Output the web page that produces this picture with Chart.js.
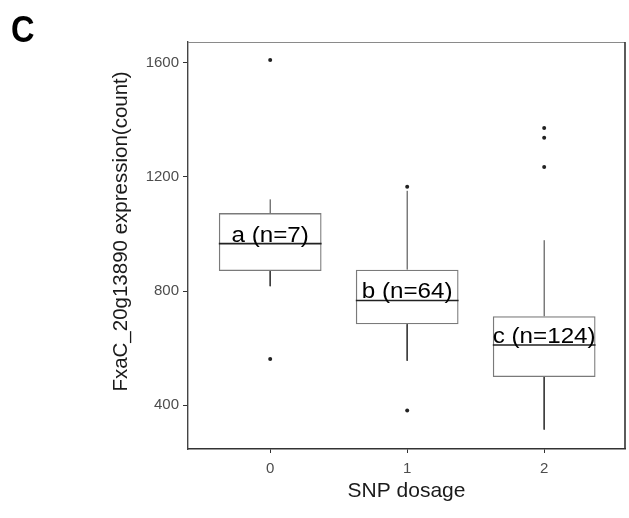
<!DOCTYPE html>
<html>
<head>
<meta charset="utf-8">
<script src="https://cdn.jsdelivr.net/npm/chart.js@4/dist/chart.umd.min.js"></script>
<style>
  html, body { margin: 0; padding: 0; background: #fff; }
  #wrap { width: 629px; height: 518px; position: relative; }
</style>
</head>
<body>
<div id="wrap"><canvas id="c" width="629" height="518"></canvas></div>
<script>
// ---- data ----
const categories   = ['0', '1', '2'];
const whiskerLow   = [817, 556, 315];
const q1           = [870, 684, 499];
const medians      = [966, 767, 611];
const q3           = [1073, 875, 712];
const whiskerHigh  = [1121, 1151, 978];
const outliers     = [[1609, 562], [1165, 382], [1371, 1337, 1234]];
const groupLabels  = ['a (n=7)', 'b (n=64)', 'c (n=124)'];
const yTicks       = [400, 800, 1200, 1600];
const xTitle       = 'SNP dosage';
const yTitle       = 'FxaC_20g13890 expression(count)';
const panelTag     = 'C';

const BOX_HALF = 0.375;

const boxData = categories.map((c, i) => ({ x: i, y: [q1[i], q3[i]] }));
const whiskerData = [];
categories.forEach((c, i) => {
  whiskerData.push({ x: i, y: q3[i] }, { x: i, y: whiskerHigh[i] }, { x: i, y: null });
  whiskerData.push({ x: i, y: q1[i] }, { x: i, y: whiskerLow[i] }, { x: i, y: null });
});
const medianData = [];
categories.forEach((c, i) => {
  medianData.push({ x: i - BOX_HALF, y: medians[i] }, { x: i + BOX_HALF, y: medians[i] }, { x: i, y: null });
});
const outlierData = [];
outliers.forEach((arr, i) => arr.forEach(v => outlierData.push({ x: i, y: v })));

const FONT = '"Liberation Sans", Arial, sans-serif';

const decor = {
  id: 'decor',
  afterDatasetsDraw(chart) {
    const { ctx, chartArea: a, scales: { x, y } } = chart;
    ctx.save();
    // top and right panel borders
    ctx.strokeStyle = '#8a8a8a';
    ctx.lineWidth = 1.2;
    ctx.beginPath();
    ctx.moveTo(a.left, a.top + 0.5);
    ctx.lineTo(a.right, a.top + 0.5);
    ctx.stroke();
    ctx.strokeStyle = '#333';
    ctx.lineWidth = 1.6;
    ctx.beginPath();
    ctx.moveTo(a.right, a.top);
    ctx.lineTo(a.right, a.bottom);
    ctx.stroke();
    // group labels
    ctx.fillStyle = '#000';
    ctx.font = '22px ' + FONT;
    ctx.textAlign = 'center';
    ctx.textBaseline = 'alphabetic';
    groupLabels.forEach((t, i) => {
      const px = x.getPixelForValue(i);
      const py = y.getPixelForValue(medians[i]) - 2;
      ctx.save();
      ctx.translate(px, py);
      ctx.scale(1.1, 1);
      ctx.fillText(t, 0, 0);
      ctx.restore();
    });
    // y axis title (sits slightly above the panel centre in the reference)
    ctx.fillStyle = '#1a1a1a';
    ctx.font = '20.5px ' + FONT;
    ctx.textAlign = 'center';
    ctx.textBaseline = 'middle';
    ctx.save();
    ctx.translate(121, (a.top + a.bottom) / 2 - 14);
    ctx.rotate(-Math.PI / 2);
    ctx.fillText(yTitle, 0, 0);
    ctx.restore();
    // panel tag
    ctx.fillStyle = '#000';
    ctx.font = 'bold 37px ' + FONT;
    ctx.textAlign = 'left';
    ctx.textBaseline = 'alphabetic';
    ctx.save();
    ctx.translate(11, 42);
    ctx.scale(0.88, 1);
    ctx.fillText(panelTag, 0, 0);
    ctx.restore();
    ctx.restore();
  }
};

new Chart(document.getElementById('c'), {
  type: 'bar',
  data: {
    datasets: [
      {
        type: 'bar',
        data: boxData,
        backgroundColor: 'rgba(255,255,255,0)',
        borderColor: '#7a7a7a',
        borderWidth: 1.3,
        borderSkipped: false,
        categoryPercentage: 0.75,
        barPercentage: 1.0,
        order: 3
      },
      {
        type: 'line',
        data: whiskerData,
        borderColor: '#3a3a3a',
        borderWidth: 1,
        pointRadius: 0,
        spanGaps: false,
        order: 2
      },
      {
        type: 'line',
        data: medianData,
        borderColor: '#222',
        borderWidth: 1.6,
        pointRadius: 0,
        spanGaps: false,
        order: 1
      },
      {
        type: 'line',
        data: outlierData,
        showLine: false,
        pointRadius: 2,
        pointBackgroundColor: '#222',
        pointBorderWidth: 0,
        order: 0
      }
    ]
  },
  options: {
    responsive: false,
    animation: false,
    events: [],
    layout: { padding: { left: 104, top: 42, right: 2, bottom: 10 } },
    plugins: { legend: { display: false }, tooltip: { enabled: false } },
    scales: {
      x: {
        type: 'linear',
        min: -0.6,
        max: 2.59,
        offset: false,
        afterBuildTicks: s => { s.ticks = categories.map((c, i) => ({ value: i })); },
        afterFit: s => { s.height = 59; },
        ticks: {
          callback: (v) => categories[v],
          color: '#4d4d4d',
          font: { family: FONT, size: 15 },
          padding: 7,
          maxRotation: 0
        },
        grid: { display: true, drawOnChartArea: false, drawTicks: true, tickLength: 4, tickColor: '#333', offset: false },
        border: { display: true, color: '#333', width: 1.4 },
        title: {
          display: true,
          text: xTitle,
          color: '#1a1a1a',
          font: { family: FONT, size: 21 },
          padding: { top: 0, bottom: 4 }
        }
      },
      y: {
        type: 'linear',
        min: 247,
        max: 1672,
        afterBuildTicks: s => { s.ticks = yTicks.map(v => ({ value: v })); },
        afterFit: s => { s.width = 84; },
        ticks: {
          callback: (v) => String(v),
          color: '#4d4d4d',
          font: { family: FONT, size: 15 },
          padding: 4
        },
        grid: { display: true, drawOnChartArea: false, drawTicks: true, tickLength: 5, tickColor: '#333' },
        border: { display: true, color: '#444', width: 1.4 },
        title: { display: false }
      }
    }
  },
  plugins: [decor]
});
</script>
</body>
</html>
